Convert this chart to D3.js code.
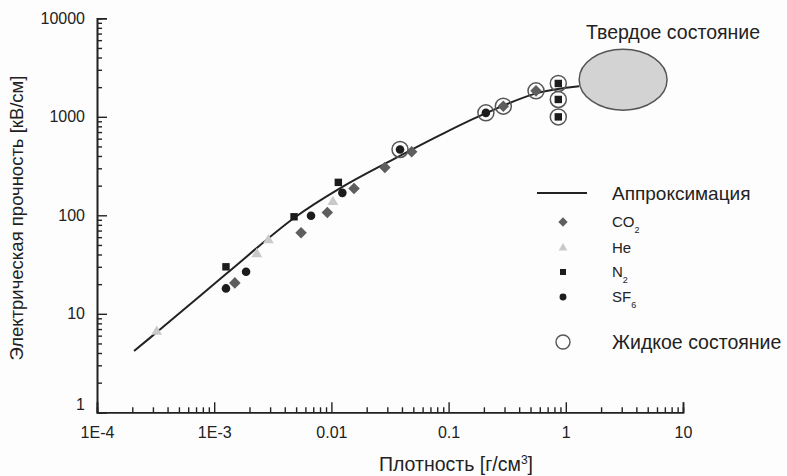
<!DOCTYPE html>
<html><head><meta charset="utf-8">
<script src="https://cdn.jsdelivr.net/npm/d3@7"></script>
<style>
body{margin:0;background:#fdfdfd;}
text{font-family:"Liberation Sans",Arial,sans-serif;fill:#222;}
</style></head>
<body><svg id="c" width="787" height="476"></svg>
<script>
// ---- data ----
const xTickValues = [1e-4, 1e-3, 1e-2, 1e-1, 1, 10];
const xTickLabels = ["1E-4", "1E-3", "0.01", "0.1", "1", "10"];
const yTickValues = [1, 10, 100, 1000, 10000];
const yTickLabels = ["1", "10", "100", "1000", "10000"];

const fitX = [2.07e-4, 3.25e-4, 1.26e-3, 4.8e-3, 0.0123, 0.0316, 0.0845, 0.208, 0.568, 1.30];
const fitY = [4.19, 6.53, 25.3, 93.8, 193, 355, 652, 1089, 1738, 2046];

const co2X = [1.50e-3, 5.51e-3, 9.23e-3, 0.0156, 0.0286, 0.0484, 0.293, 0.557];
const co2Y = [20.6, 66.4, 107, 187, 306, 441, 1282, 1834];
const heX = [3.23e-4, 2.31e-3, 2.90e-3, 0.0103];
const heY = [6.57, 40.4, 56.0, 137];
const n2X = [1.26e-3, 4.80e-3, 0.01146, 0.863, 0.863, 0.863];
const n2Y = [30.0, 96.6, 216, 2179, 1500, 998];
const sf6X = [1.26e-3, 1.87e-3, 6.70e-3, 0.0124, 0.0385, 0.208];
const sf6Y = [18.1, 26.7, 98.8, 169, 466, 1097];
const liquidX = [0.0385, 0.208, 0.293, 0.557, 0.863, 0.863, 0.863];
const liquidY = [466, 1097, 1282, 1834, 2179, 1500, 998];

// solid state region (extent in data units)
const solidXRange = [1.30, 7.31];
const solidYRange = [1168, 4850];

// ---- layout ----
const svg = d3.select("#c");
const x = d3.scaleLog().domain([1e-4, 10]).range([97, 683]);
const y = d3.scaleLog().domain([1, 10000]).range([412.3, 18.3]);
const ink = "#222";

const minorX = [];
for (let e = -4; e < 1; e++) for (let k = 2; k <= 9; k++) minorX.push(k * Math.pow(10, e));
const minorY = [];
for (let e = 0; e < 4; e++) for (let k = 2; k <= 9; k++) minorY.push(k * Math.pow(10, e));

const gx = svg.append("g").attr("transform", `translate(0,${y(1)})`);
gx.call(d3.axisBottom(x).tickValues(xTickValues).tickSize(-10).tickFormat((d,i)=>xTickLabels[i]).tickPadding(14));
gx.append("g").call(d3.axisBottom(x).tickValues(minorX).tickSize(-5).tickFormat(""));
const gy = svg.append("g").attr("transform", `translate(${x(1e-4)},0)`);
gy.call(d3.axisLeft(y).tickValues(yTickValues).tickSize(-10).tickFormat((d,i)=>yTickLabels[i]).tickPadding(12));
gy.append("g").call(d3.axisLeft(y).tickValues(minorY).tickSize(-5).tickFormat(""));
svg.selectAll(".domain").attr("stroke", ink).attr("stroke-width", 1.6);
svg.selectAll(".tick line").attr("stroke", ink).attr("stroke-width", 1.4);
svg.selectAll(".tick text").style("font-size", "16px").attr("fill", ink);
gy.selectAll(".tick text").filter(d => d === 1).attr("dy", "-0.15em");

// axis titles
svg.append("text").attr("x", 456).attr("y", 471).attr("text-anchor", "middle")
  .style("font-size", "19.5px").html('Плотность [г/см<tspan dy="-7" style="font-size:12px">3</tspan><tspan dy="7">]</tspan>');
svg.append("text").attr("transform", "translate(23,218) rotate(-90)").attr("text-anchor", "middle")
  .style("font-size", "18.5px").text("Электрическая прочность [кВ/см]");

// fit line
const fit = fitX.map((v, i) => ({x: v, y: fitY[i]}));
svg.append("path").datum(fit)
  .attr("d", d3.line().x(d => x(d.x)).y(d => y(d.y)).curve(d3.curveCatmullRom))
  .attr("fill", "none").attr("stroke", ink).attr("stroke-width", 2);

// solid ellipse
svg.append("ellipse")
  .attr("cx", (x(solidXRange[0]) + x(solidXRange[1])) / 2)
  .attr("cy", (y(solidYRange[0]) + y(solidYRange[1])) / 2)
  .attr("rx", (x(solidXRange[1]) - x(solidXRange[0])) / 2)
  .attr("ry", (y(solidYRange[0]) - y(solidYRange[1])) / 2)
  .attr("fill", "#d3d3d3").attr("stroke", "#555").attr("stroke-width", 1.5);
svg.append("text").attr("x", 673).attr("y", 39).attr("text-anchor", "middle")
  .style("font-size", "19.5px").text("Твердое состояние");

// markers
const sym = {
  co2: {type: d3.symbolDiamond2, size: 85, fill: "#5e5e5e"},
  he: {type: d3.symbolTriangle, size: 50, fill: "#c9c9c9"},
  n2: {type: d3.symbolSquare, size: 55, fill: "#1c1c1c"},
  sf6: {type: d3.symbolCircle, size: 58, fill: "#1c1c1c"}
};
function drawSeries(xs, ys, s) {
  svg.append("g").selectAll("path").data(xs.map((v, i) => [v, ys[i]])).join("path")
    .attr("transform", d => `translate(${x(d[0])},${y(d[1])})`)
    .attr("d", d3.symbol().type(s.type).size(s.size)).attr("fill", s.fill);
}
drawSeries(heX, heY, sym.he);
drawSeries(co2X, co2Y, sym.co2);
drawSeries(n2X, n2Y, sym.n2);
drawSeries(sf6X, sf6Y, sym.sf6);
svg.append("g").selectAll("circle").data(liquidX.map((v, i) => [v, liquidY[i]])).join("circle")
  .attr("cx", d => x(d[0])).attr("cy", d => y(d[1])).attr("r", 8)
  .attr("fill", "none").attr("stroke", "#555").attr("stroke-width", 1.5);

// legend
const lg = svg.append("g");
lg.append("line").attr("x1", 537).attr("x2", 587).attr("y1", 193).attr("y2", 193).attr("stroke", ink).attr("stroke-width", 2);
lg.append("text").attr("x", 612).attr("y", 200).style("font-size", "19px").text("Аппроксимация");
const legendRows = [
  {s: sym.co2, y: 222, label: "CO", sub: "2"},
  {s: sym.he, y: 248, label: "He", sub: ""},
  {s: sym.n2, y: 272, label: "N", sub: "2"},
  {s: sym.sf6, y: 297, label: "SF", sub: "6"}
];
legendRows.forEach(r => {
  lg.append("path").attr("transform", `translate(563,${r.y})`)
    .attr("d", d3.symbol().type(r.s.type).size(r.s.size * 0.65)).attr("fill", r.s.fill);
  const t = lg.append("text").attr("x", 612).attr("y", r.y + 5).style("font-size", "15px").attr("fill", "#333");
  t.append("tspan").text(r.label);
  if (r.sub) t.append("tspan").attr("dy", 6).style("font-size", "9px").text(r.sub);
});
lg.append("circle").attr("cx", 563).attr("cy", 342).attr("r", 7).attr("fill", "none").attr("stroke", "#555").attr("stroke-width", 1.4);
lg.append("text").attr("x", 612).attr("y", 349).style("font-size", "19.5px").text("Жидкое состояние");
</script></body></html>
